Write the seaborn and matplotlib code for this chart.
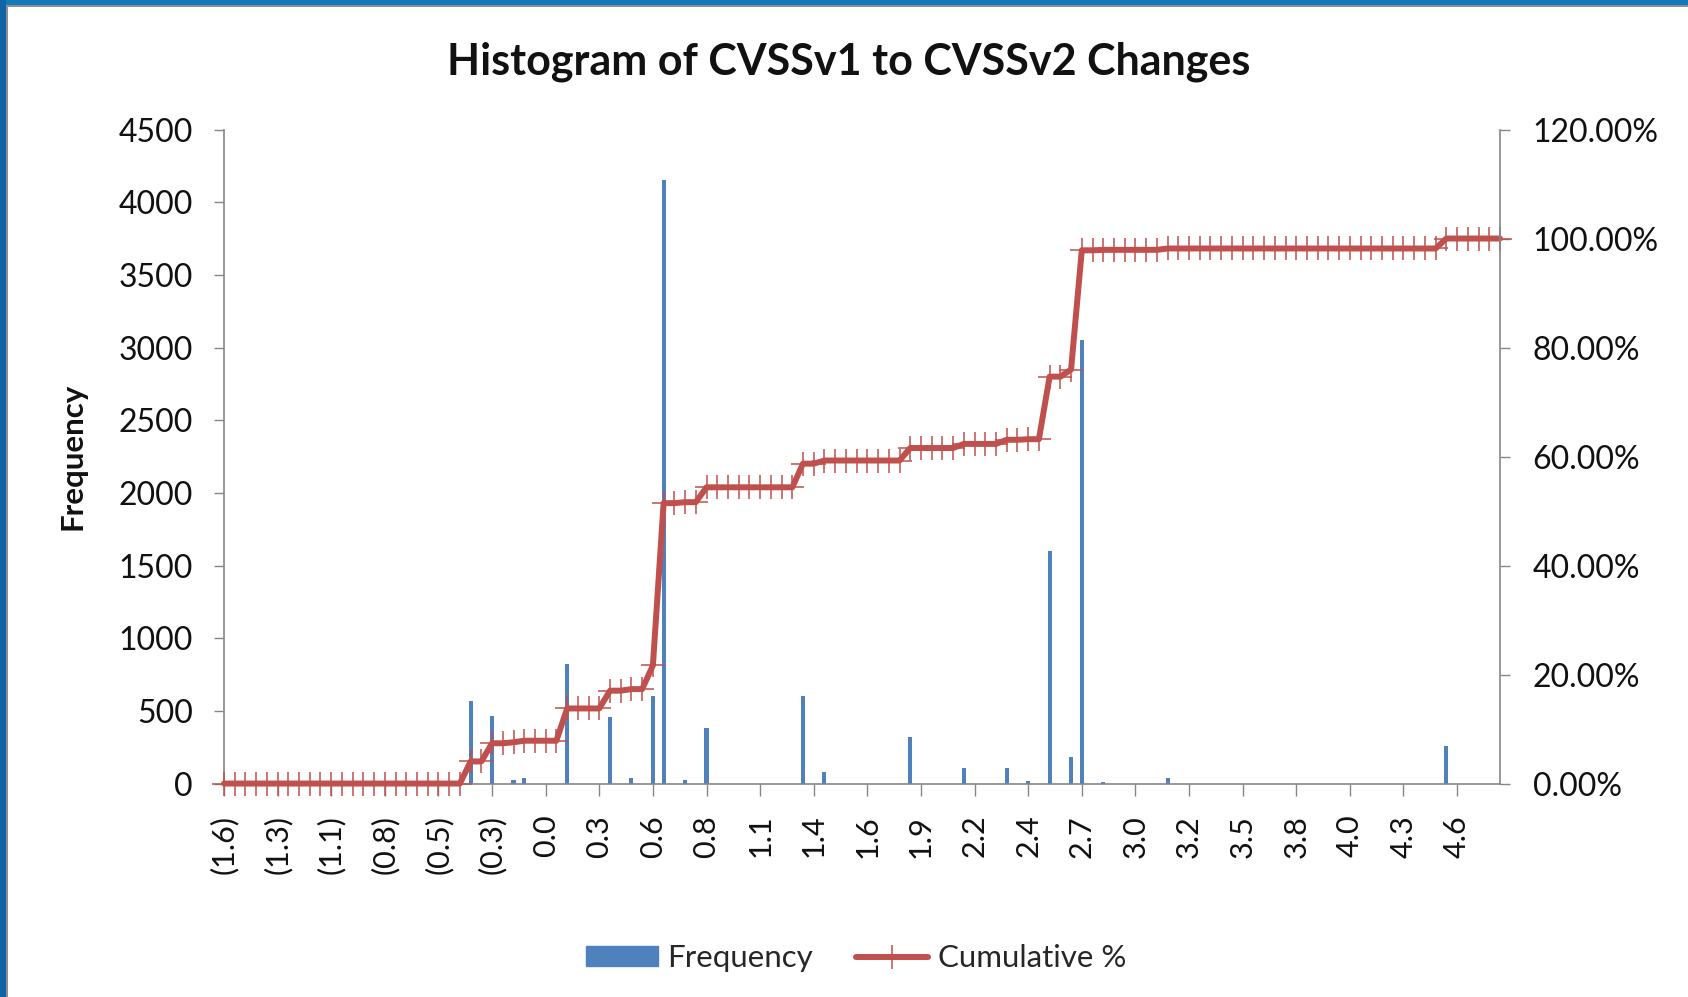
import matplotlib
matplotlib.use("Agg")
import matplotlib.pyplot as plt
from matplotlib.lines import Line2D
from matplotlib.patches import Patch, Rectangle
import numpy as np
import seaborn as sns

# Histogram bins (category index on the axis) that hold any changes, and their counts
bar_bins = [23, 25, 27, 28, 32, 36, 38, 40, 41, 43, 45, 54, 56, 64, 69, 73, 75,
            77, 79, 80, 82, 88, 114]
bar_counts = [565, 465, 25, 40, 825, 455, 40, 605, 4150, 25, 380, 605, 80, 320,
              105, 105, 15, 1600, 180, 3050, 12, 35, 255]
n_bins = 120

# Axis labels, shown on every 5th bin
tick_labels = ["(1.6)", "(1.3)", "(1.1)", "(0.8)", "(0.5)", "(0.3)", "0.0", "0.3",
               "0.6", "0.8", "1.1", "1.4", "1.6", "1.9", "2.2", "2.4", "2.7", "3.0",
               "3.2", "3.5", "3.8", "4.0", "4.3", "4.6"]
left_ticks = [0, 500, 1000, 1500, 2000, 2500, 3000, 3500, 4000, 4500]
right_ticks = [0, 20, 40, 60, 80, 100, 120]

# Build the full frequency table and the cumulative % (same as Excel's histogram tool)
bins = np.arange(n_bins)
freq = np.zeros(n_bins)
freq[bar_bins] = bar_counts
cum_pct = np.cumsum(freq) / freq.sum() * 100

BLUE = "#4F81BD"
RED = "#C0504D"
GREY = "#868686"

sns.set_theme(style="white")
plt.rcParams["font.family"] = ["Lato", "DejaVu Sans"]

fig = plt.figure(figsize=(16.88, 9.97), dpi=100)
ax = fig.add_axes([0.1327, 0.2141, 0.7559, 0.6560])

sns.barplot(x=bins, y=freq, color=BLUE, saturation=1, width=0.38,
            linewidth=0, ax=ax)

ax2 = ax.twinx()
sns.lineplot(x=bins, y=cum_pct, ax=ax2, color=RED, linewidth=4.3,
             marker="+", markersize=17, markeredgewidth=1.1,
             markeredgecolor=RED, clip_on=False)

ax.set_xlim(0, n_bins - 1)
ax.set_ylim(0, 4500)
ax2.set_ylim(0, 120)

ax.set_xticks(range(0, n_bins, 5))
ax.set_xticklabels(tick_labels, rotation=90)
ax.set_yticks(left_ticks)
ax.set_yticklabels([str(v) for v in left_ticks])
ax2.set_yticks(right_ticks)
ax2.set_yticklabels([f"{v:.2f}%" for v in right_ticks])

ax.set_xlabel("")
ax.set_ylabel("Frequency", fontsize=22.5, fontweight="bold", color="#111111")
ax.yaxis.set_label_coords(-0.108, 0.5)
ax2.set_ylabel("")

for a in (ax, ax2):
    a.spines["top"].set_visible(False)
    for s in a.spines.values():
        s.set_color(GREY)
        s.set_linewidth(1.2)
ax2.spines["left"].set_visible(False)
ax2.spines["bottom"].set_visible(False)
ax.spines["right"].set_visible(False)

ax.tick_params(axis="y", direction="out", length=7.5, width=1, color=GREY,
               labelsize=23, pad=15, left=True, labelcolor="#111111")
ax.tick_params(axis="x", direction="out", length=8.5, width=1, color=GREY,
               labelsize=22, pad=14, bottom=True, labelcolor="#111111")
ax2.tick_params(axis="y", direction="out", length=7.5, width=1, color=GREY,
                labelsize=23, pad=16, right=True, labelcolor="#111111")

fig.text(0.503, 0.9378, "Histogram of CVSSv1 to CVSSv2 Changes", ha="center",
         va="center", fontsize=31, fontweight="bold", color="#111111")

handles = [Patch(facecolor=BLUE, edgecolor=BLUE),
           Line2D([], [], color=RED, linewidth=4.3, marker="+", markersize=17,
                  markeredgewidth=1.1)]
fig.legend(handles, ["Frequency", "Cumulative %"], loc="center",
           bbox_to_anchor=(0.507, 0.039), ncol=2, frameon=False, fontsize=22.5,
           handlelength=2.3, handleheight=0.6, columnspacing=1.4,
           handletextpad=0.3)

# blue window border seen along the top and left edges of the screenshot
fig.patches.append(Rectangle((0, 1 - 5 / 997), 1, 5 / 997, transform=fig.transFigure,
                             facecolor="#1479BC", edgecolor="none"))
fig.patches.append(Rectangle((0, 1 - 7 / 997), 1, 2 / 997, transform=fig.transFigure,
                             facecolor="#8F8F8F", edgecolor="none"))
fig.patches.append(Rectangle((0, 0), 6 / 1688, 1, transform=fig.transFigure,
                             facecolor="#0F64A8", edgecolor="none"))
fig.patches.append(Rectangle((6 / 1688, 0), 2 / 1688, 1 - 5 / 997,
                             transform=fig.transFigure, facecolor="#8F8F8F",
                             edgecolor="none"))

fig.savefig("out.png", dpi=100)
